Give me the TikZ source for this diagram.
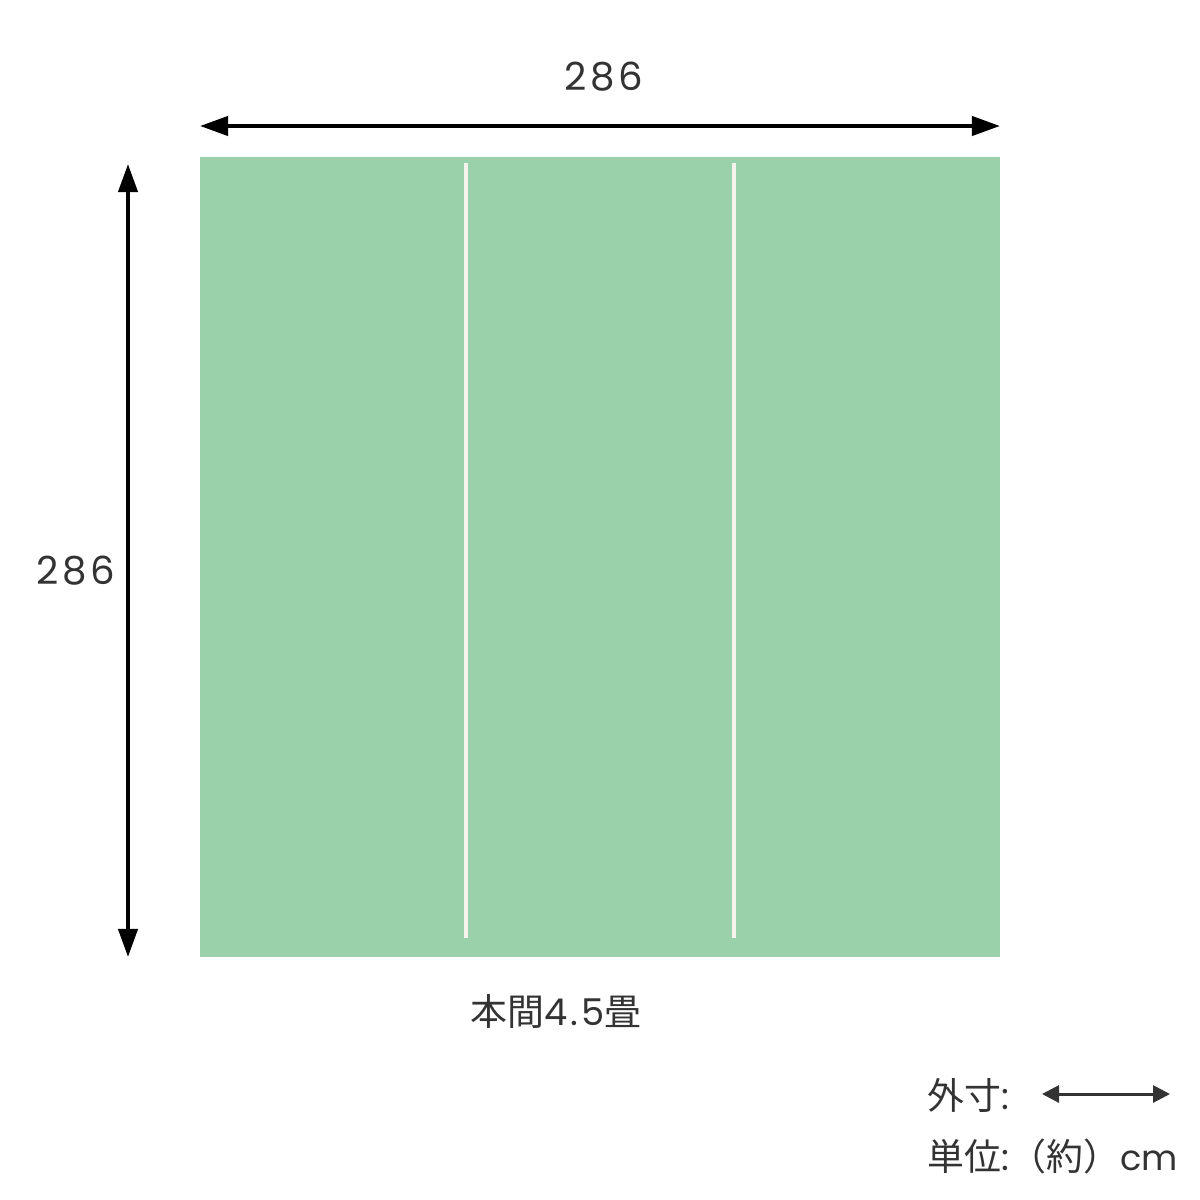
\documentclass[tikz,border=0pt]{standalone}
\usepackage{fontspec}
\setmainfont{Poppins}
\newfontfamily\cjk{Noto Sans CJK JP}
\usetikzlibrary{arrows.meta}
\definecolor{tatami}{HTML}{9AD0AA}
\definecolor{heri}{HTML}{F4F4EC}
\definecolor{ink}{HTML}{333333}
\tikzset{
  dim/.style={line width=0.04cm, {Triangle[length=0.28cm,width=0.19cm]}-{Triangle[length=0.28cm,width=0.19cm]}},
  key/.style={ink, line width=0.03cm, {Triangle[length=0.17cm,width=0.17cm]}-{Triangle[length=0.17cm,width=0.17cm]}},
  lab/.style={text=ink, inner sep=0pt, font=\fontsize{10.5}{12}\selectfont},
  num/.style={lab, font=\fontsize{11}{12}\selectfont\addfontfeatures{LetterSpace=10}}
}
\begin{document}
\begin{tikzpicture}[x=0.01cm, y=-0.01cm, line join=round]
  \useasboundingbox (0,0) rectangle (1200,1200);
  % mat
  \fill[tatami] (200,157) rectangle (1000,957);
  \foreach \x in {466,734}
  \draw[heri, line width=0.035cm] (\x,163) -- (\x,938);
  % dimensions
  \coordinate (wl) at (200,126);
  \coordinate (wr) at (1000,126);
  \coordinate (ht) at (128,164);
  \coordinate (hb) at (128,957);
  \draw[dim] (wl) -- (wr);
  \draw[dim] (ht) -- (hb);
  \node[num] (width) at (604,77) {286};
  \node[num] (height) at (76,571) {286};
  \node[lab] (name) at (556,1011) {{\cjk 本間}{\addfontfeatures{LetterSpace=8}4.5}{\cjk 畳}};
  % legend
  \node[lab, anchor=west] (outer) at (927,1095) {{\cjk 外寸}:};
  \node[lab, anchor=west] (unit) at (927,1156) {{\cjk 単位}:{\cjk （約）}\fontsize{10}{12}\selectfont cm};
  \coordinate (kl) at (1042,1094);
  \coordinate (kr) at (1170,1094);
  \draw[key] (kl) -- (kr);
\end{tikzpicture}
\end{document}
